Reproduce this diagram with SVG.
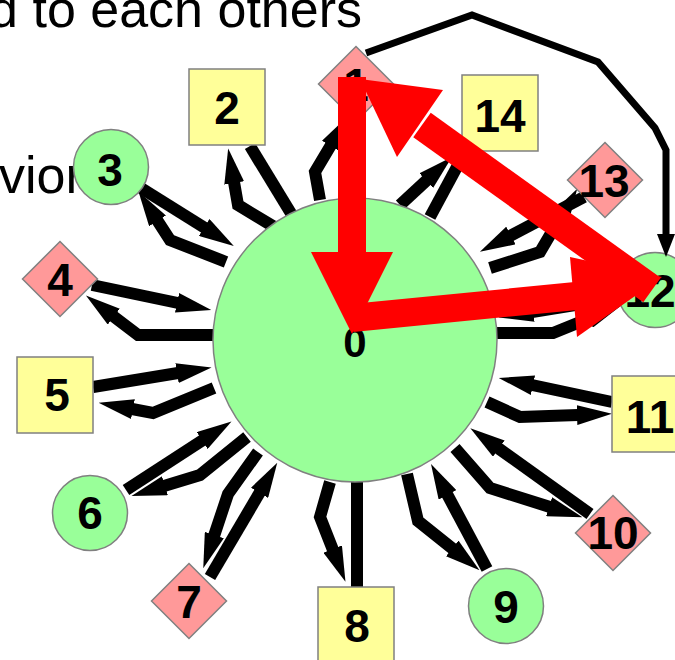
<svg xmlns="http://www.w3.org/2000/svg" width="675" height="660" viewBox="0 0 675 660">
<defs>
<style>
.sq{fill:#ffff99;stroke:#808080;stroke-width:1.5}
.dm{fill:#ff9999;stroke:#808080;stroke-width:1.5}
.ci{fill:#99ff99;stroke:#808080;stroke-width:1.5}
.lbl{font-family:"Liberation Sans",Arial,sans-serif;font-weight:bold;font-size:46px;text-anchor:middle;fill:#000}
.txt{font-family:"Liberation Sans",Arial,sans-serif;font-size:52px;fill:#000}
.e{fill:none;stroke:#000;stroke-width:12;stroke-linejoin:miter;stroke-miterlimit:10}
.ea{marker-end:url(#ah)}
.cv{fill:none;stroke:#000;stroke-width:7;stroke-linejoin:miter;marker-end:url(#ahs)}
.r{fill:none;stroke:#ff0000;stroke-width:28}
.rh{fill:#ff0000}
</style>
<marker id="ah" markerUnits="userSpaceOnUse" markerWidth="35" markerHeight="20" viewBox="0 0 35 20" refX="1" refY="10" orient="auto"><path d="M0,0 L35,10 L0,20 z" fill="#000"/></marker>
<marker id="ahs" markerUnits="userSpaceOnUse" markerWidth="23" markerHeight="18" viewBox="0 0 23 18" refX="1" refY="9" orient="auto"><path d="M0,0 L23,9 L0,18 z" fill="#000"/></marker>
</defs>
<rect width="675" height="660" fill="#fff"/>
<text class="txt" x="362" y="27" text-anchor="end">d to each others</text>
<text class="txt" x="-1" y="193">vior</text>
<g id="connectors">
<path class="e ea" d="M320,200 L315,172 L331,145"/>
<path class="e ea" d="M356,121 L356,165"/>
<path class="e ea" d="M276,228 L238,205 L234,182"/>
<path class="e" d="M250,146 L292,215"/>
<path class="e ea" d="M141,188 L205,228"/>
<path class="e ea" d="M226,262 L170,240 L157,220"/>
<path class="e ea" d="M92,285 L178,303"/>
<path class="e ea" d="M214,335 L138,335 L113,316"/>
<path class="e ea" d="M93,387 L178,373"/>
<path class="e ea" d="M214,388 L153,413 L132,409"/>
<path class="e ea" d="M126,490 L203,440"/>
<path class="e ea" d="M247,437 L200,475 L164,486"/>
<path class="e ea" d="M210,577 L260,492"/>
<path class="e ea" d="M258,452 L228,494 L214,536"/>
<path class="e" d="M357,587 L357,478"/>
<path class="e ea" d="M330,482 L320,517 L333,550"/>
<path class="e ea" d="M487,569 L447,494"/>
<path class="e ea" d="M407,474 L418,521 L453,549"/>
<path class="e ea" d="M590,514 L498,448"/>
<path class="e ea" d="M455,448 L490,488 L550,507"/>
<path class="e ea" d="M612,402 L532,385"/>
<path class="e ea" d="M487,402 L520,417 L578,415"/>
<path class="e ea" d="M618,298 L532,312"/>
<path class="e ea" d="M497,333 L553,333 L590,318"/>
<path class="e ea" d="M584,197 L510,236"/>
<path class="e ea" d="M490,268 L540,252 L560,218"/>
<path class="e ea" d="M400,205 L427,180"/>
<path class="e" d="M465,152 L430,217"/>
</g>
<g id="node0"><circle class="ci" cx="355" cy="340" r="142"/><text class="lbl" x="355" y="357" style="font-size:42px">0</text></g>
<g id="node1"><polygon class="dm" points="356,46.5 393.5,84 356,121.5 318.5,84"/><text class="lbl" x="356" y="101">1</text></g>
<g id="node2"><rect class="sq" x="189" y="69" width="76" height="76"/><text class="lbl" x="227" y="124">2</text></g>
<g id="node3"><circle class="ci" cx="111" cy="167" r="37.5"/><text class="lbl" x="110" y="186">3</text></g>
<g id="node4"><polygon class="dm" points="60,241.5 97.5,279 60,316.5 22.5,279"/><text class="lbl" x="60" y="296">4</text></g>
<g id="node5"><rect class="sq" x="17" y="357" width="76" height="76"/><text class="lbl" x="57" y="411">5</text></g>
<g id="node6"><circle class="ci" cx="90" cy="513" r="37.5"/><text class="lbl" x="90" y="529">6</text></g>
<g id="node7"><polygon class="dm" points="189,563.5 226.5,601 189,638.5 151.5,601"/><text class="lbl" x="189" y="618">7</text></g>
<g id="node8"><rect class="sq" x="318" y="587" width="76" height="76"/><text class="lbl" x="357" y="642">8</text></g>
<g id="node9"><circle class="ci" cx="506" cy="606" r="37.5"/><text class="lbl" x="506" y="623">9</text></g>
<g id="node10"><polygon class="dm" points="613,495.5 650.5,533 613,570.5 575.5,533"/><text class="lbl" x="613" y="549">10</text></g>
<g id="node11"><rect class="sq" x="612" y="376" width="76" height="76"/><text class="lbl" x="650" y="433">11</text></g>
<g id="node12"><circle class="ci" cx="655" cy="290" r="37.5"/><text class="lbl" x="650" y="307">12</text></g>
<g id="node13"><polygon class="dm" points="605,142.5 642.5,180 605,217.5 567.5,180"/><text class="lbl" x="604" y="197">13</text></g>
<g id="node14"><rect class="sq" x="462" y="75" width="76" height="76"/><text class="lbl" x="500" y="132">14</text></g>
<g id="highlight-connectors">
<path class="cv" d="M366,53 L472,15 L598,62 L655,128 L666,150 L666,235"/>
<path class="r" d="M352,77 L352,253"/>
<polygon class="rh" points="311,252 393,252 352,334"/>
<path class="r" d="M352,318 L576,296"/>
<polygon class="rh" points="570,257 662,277 577,337"/>
<path class="r" style="stroke-width:30" d="M652,290 L422,125"/>
<polygon class="rh" points="443,90 360,79 397,157"/>
</g>
</svg>
